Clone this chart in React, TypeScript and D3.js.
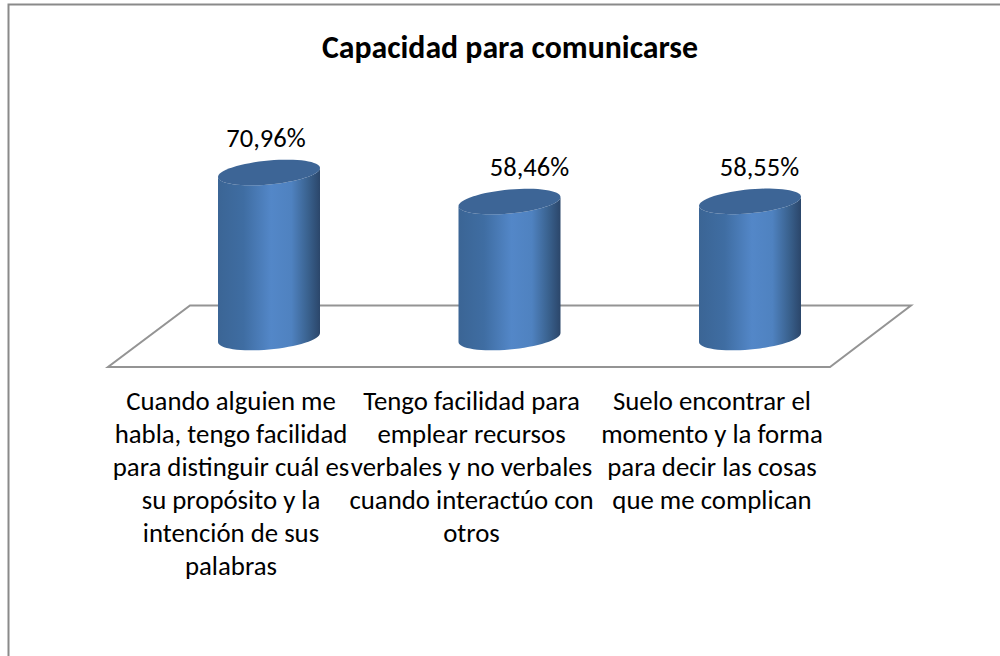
import React from "react";
import * as d3 from "d3";

const title = "Capacidad para comunicarse";
const categories = ["A", "B", "C"];
const values = [70.96, 58.46, 58.55];
const valueLabels = ["70,96%", "58,46%", "58,55%"];
const categoryLines = [
  ["Cuando alguien me", "habla, tengo facilidad", "para distinguir cuál es", "su propósito y la", "intención de sus", "palabras"],
  ["Tengo facilidad para", "emplear recursos", "verbales y no verbales", "cuando interactúo con", "otros"],
  ["Suelo encontrar el", "momento y la forma", "para decir las cosas", "que me complican"],
];

const font = "Carlito, Calibri, Lato, sans-serif";
const baseY = 337.5;
const halfW = 51;
const skew = 4.5;
const minor = 12;
const valueDx = [-3, 20, 9.5];
const valueY = [147, 176, 176];

const x = d3.scaleBand<string>().domain(categories).range([148.75, 870.25]).padding(0);
const y = d3.scaleLinear().domain([0, 70.96]).range([baseY, 172.5]);

const pt = (cx: number, cy: number, t: number): [number, number] => [
  cx + halfW * Math.cos(t),
  cy - skew * Math.cos(t) + minor * Math.sin(t),
];
const line = d3.line();

function ellipsePath(cx: number, cy: number) {
  return line(d3.range(0, 65).map((i) => pt(cx, cy, (i / 64) * 2 * Math.PI))) + "Z";
}
function bodyPath(cx: number, top: number, bottom: number) {
  const lower = d3.range(0, 33).map((i) => pt(cx, bottom, (i / 32) * Math.PI));
  const upper = d3.range(0, 33).map((i) => pt(cx, top, Math.PI - (i / 32) * Math.PI));
  return line([...lower, ...upper]) + "Z";
}

export default function App() {
  return (
    <svg width={1000} height={656} style={{ position: "absolute", left: 0, top: 0, background: "#fff" }}>
      <defs>
        <linearGradient id="cyl" x1="0" x2="1" y1="0" y2="0">
          <stop offset="0" stopColor="#3b6595" />
          <stop offset="0.25" stopColor="#3f6da2" />
          <stop offset="0.52" stopColor="#5387c8" />
          <stop offset="0.72" stopColor="#4f82c0" />
          <stop offset="0.88" stopColor="#3a628f" />
          <stop offset="1" stopColor="#2b466a" />
        </linearGradient>
      </defs>
      <path d="M8.5,656V4.5H1000" fill="none" stroke="#8a8a8a" strokeWidth={2} />
      <path d="M190,305.5H911L830,367H108Z" fill="none" stroke="#949494" strokeWidth={2} />
      <text x={510} y={58} textAnchor="middle" fontFamily={font} fontWeight={700} fontSize={31.8} fill="#000">
        {title}
      </text>
      {categories.map((c, i) => {
        const cx = x(c)! + x.bandwidth() / 2;
        const top = y(values[i]);
        return (
          <g key={c}>
            <path d={bodyPath(cx, top, baseY)} fill="url(#cyl)" />
            <path d={ellipsePath(cx, top)} fill="#3d6596" />
            <text x={cx + valueDx[i]} y={valueY[i]} textAnchor="middle" fontFamily={font} fontSize={26.5} fill="#000">
              {valueLabels[i]}
            </text>
            {categoryLines[i].map((t, k) => (
              <text key={k} x={cx - 38} y={410 + k * 33} textAnchor="middle" fontFamily={font} fontSize={26.8} fill="#000">
                {t}
              </text>
            ))}
          </g>
        );
      })}
    </svg>
  );
}
